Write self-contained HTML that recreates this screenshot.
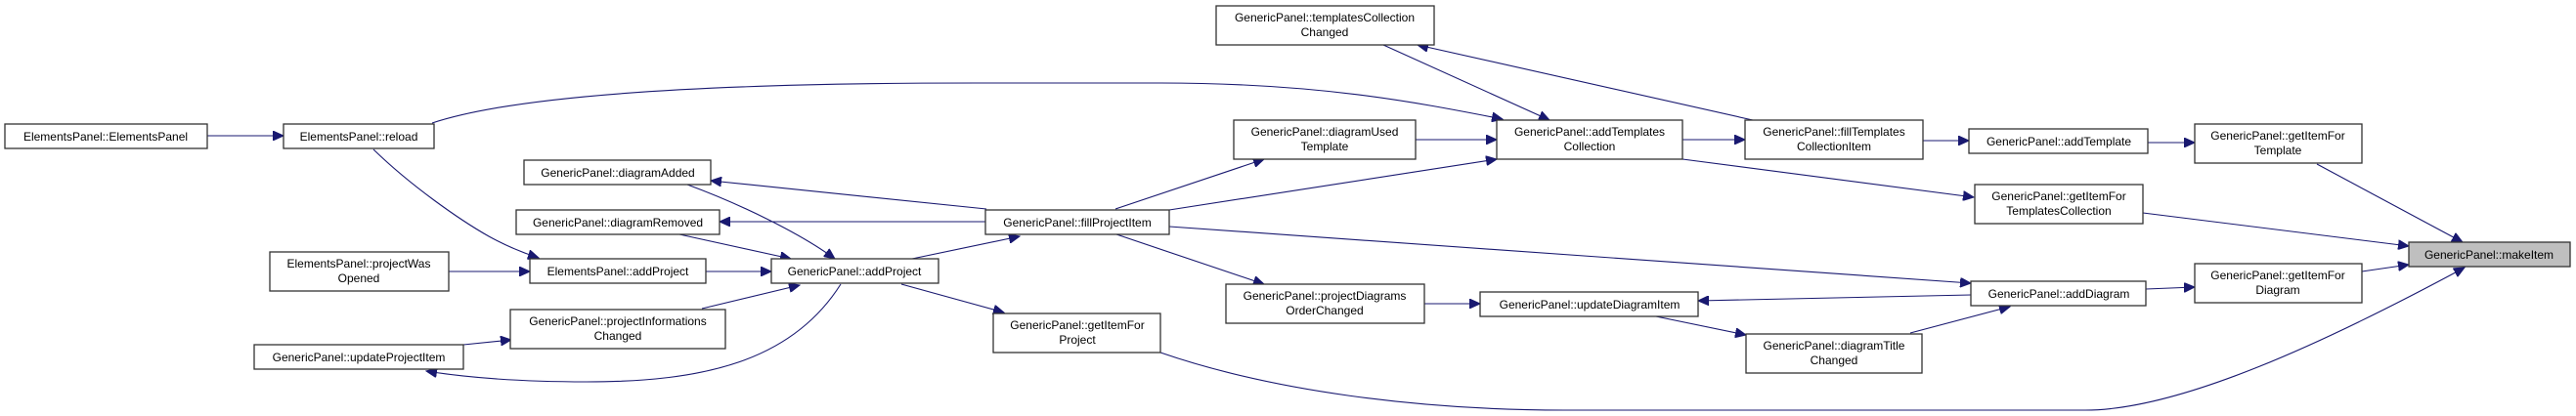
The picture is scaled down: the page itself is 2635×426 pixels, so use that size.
<!DOCTYPE html>
<html><head><meta charset="utf-8"><style>
html,body{margin:0;padding:0;background:#fff;}
svg{display:block;}
text{font-family:"Liberation Sans",Arial,sans-serif;font-size:12px;fill:#000;text-anchor:middle;}
.b{fill:#fff;stroke:#333;stroke-width:1.3;}
.e{fill:none;stroke:#191970;stroke-width:1.1;marker-end:url(#a);}
</style></head><body>
<svg width="2635" height="426" viewBox="0 0 2635 426" xmlns="http://www.w3.org/2000/svg">
<defs><marker id="a" markerUnits="userSpaceOnUse" markerWidth="12" markerHeight="10" refX="11" refY="5" orient="auto"><path d="M0,0 L11,5 L0,10 z" fill="#191970" stroke="#191970"/></marker></defs>

<!-- edges -->
<path class="e" d="M212,139 L290,139"/>
<path class="e" d="M442,126 C520,100 700,85 1000,85 L1187,85 C1350,85 1450,105 1537,122"/>
<path class="e" d="M382,153 C420,190 470,225 500,242 C520,253 535,259 551,264"/>
<path class="e" d="M459,278 L542,278"/>
<path class="e" d="M722,278 L789,278"/>
<path class="e" d="M703,189 C760,210 820,240 854,265"/>
<path class="e" d="M1009,214 L727,185"/>
<path class="e" d="M1008,227 L736,227"/>
<path class="e" d="M695,240 L809,265"/>
<path class="e" d="M718,316 L818,292"/>
<path class="e" d="M474,353 L523,348"/>
<path class="e" d="M860,291 C810,370 720,391 600,391 C530,391 480,387 436,380"/>
<path class="e" d="M933,265 L1043,242"/>
<path class="e" d="M922,291 L1027,320"/>
<path class="e" d="M1141,214 L1293,163"/>
<path class="e" d="M1196,215 L1531,163"/>
<path class="e" d="M1142,240 L1293,291"/>
<path class="e" d="M1196,232 L2016,290"/>
<path class="e" d="M1448,143 L1531,143"/>
<path class="e" d="M1415,46 L1585,123"/>
<path class="e" d="M1793,123 L1450,46"/>
<path class="e" d="M1721,143 L1785,143"/>
<path class="e" d="M1721,163 L2019,202"/>
<path class="e" d="M1967,144 L2014,144"/>
<path class="e" d="M2197,146 L2245,146"/>
<path class="e" d="M2370,168 L2519,248"/>
<path class="e" d="M2192,218 L2464,252"/>
<path class="e" d="M2416,278 L2464,271"/>
<path class="e" d="M2195,296 L2245,294"/>
<path class="e" d="M2016,302 L1737,308"/>
<path class="e" d="M1689,323 L1786,343"/>
<path class="e" d="M1954,341 L2056,314"/>
<path class="e" d="M1457,311 L1514,311"/>
<path class="e" d="M1187,361 C1300,400 1450,420 1600,420 L2133,420 C2230,420 2380,350 2521,274"/>

<!-- nodes -->
<rect class="b" x="5" y="127" width="207" height="25"/><text x="108" y="144">ElementsPanel::ElementsPanel</text>
<rect class="b" x="290" y="127" width="154" height="25"/><text x="367" y="144">ElementsPanel::reload</text>
<rect class="b" x="536" y="164" width="191" height="25"/><text x="632" y="181">GenericPanel::diagramAdded</text>
<rect class="b" x="528" y="215" width="208" height="25"/><text x="632" y="232">GenericPanel::diagramRemoved</text>
<rect class="b" x="276" y="258" width="183" height="40"/><text x="367" y="274">ElementsPanel::projectWas</text><text x="367" y="289">Opened</text>
<rect class="b" x="542" y="265" width="180" height="25"/><text x="632" y="282">ElementsPanel::addProject</text>
<rect class="b" x="789" y="265" width="171" height="25"/><text x="874" y="282">GenericPanel::addProject</text>
<rect class="b" x="522" y="317" width="220" height="40"/><text x="632" y="333">GenericPanel::projectInformations</text><text x="632" y="348">Changed</text>
<rect class="b" x="260" y="353" width="214" height="25"/><text x="367" y="370">GenericPanel::updateProjectItem</text>
<rect class="b" x="1244" y="6" width="223" height="40"/><text x="1355" y="22">GenericPanel::templatesCollection</text><text x="1355" y="37">Changed</text>
<rect class="b" x="1262" y="123" width="186" height="40"/><text x="1355" y="139">GenericPanel::diagramUsed</text><text x="1355" y="154">Template</text>
<rect class="b" x="1531" y="123" width="190" height="40"/><text x="1626" y="139">GenericPanel::addTemplates</text><text x="1626" y="154">Collection</text>
<rect class="b" x="1008" y="215" width="188" height="25"/><text x="1102" y="232">GenericPanel::fillProjectItem</text>
<rect class="b" x="1254" y="291" width="203" height="40"/><text x="1355" y="307">GenericPanel::projectDiagrams</text><text x="1355" y="322">OrderChanged</text>
<rect class="b" x="1514" y="299" width="223" height="25"/><text x="1626" y="316">GenericPanel::updateDiagramItem</text>
<rect class="b" x="1016" y="321" width="171" height="40"/><text x="1102" y="337">GenericPanel::getItemFor</text><text x="1102" y="352">Project</text>
<rect class="b" x="1785" y="123" width="182" height="40"/><text x="1876" y="139">GenericPanel::fillTemplates</text><text x="1876" y="154">CollectionItem</text>
<rect class="b" x="1786" y="342" width="180" height="40"/><text x="1876" y="358">GenericPanel::diagramTitle</text><text x="1876" y="373">Changed</text>
<rect class="b" x="2014" y="132" width="183" height="25"/><text x="2106" y="149">GenericPanel::addTemplate</text>
<rect class="b" x="2245" y="127" width="171" height="40"/><text x="2330" y="143">GenericPanel::getItemFor</text><text x="2330" y="158">Template</text>
<rect class="b" x="2020" y="189" width="172" height="40"/><text x="2106" y="205">GenericPanel::getItemFor</text><text x="2106" y="220">TemplatesCollection</text>
<rect x="2464" y="248" width="165" height="25" fill="#bfbfbf" stroke="#333" stroke-width="1.3"/><text x="2546" y="265">GenericPanel::makeItem</text>
<rect class="b" x="2245" y="270" width="171" height="40"/><text x="2330" y="286">GenericPanel::getItemFor</text><text x="2330" y="301">Diagram</text>
<rect class="b" x="2016" y="288" width="179" height="25"/><text x="2106" y="305">GenericPanel::addDiagram</text>
</svg>
</body></html>
